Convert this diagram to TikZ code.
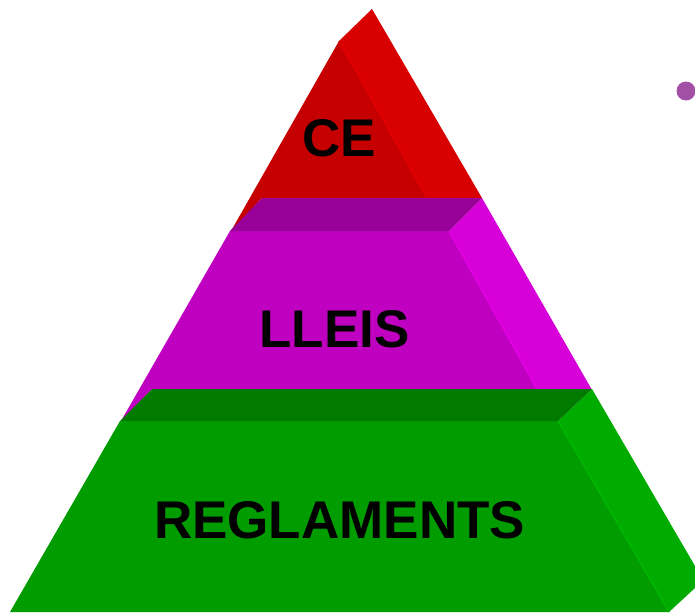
\documentclass[tikz,border=0pt]{standalone}
\usepackage{fontspec}
\setmainfont{Liberation Sans}
\definecolor{redfront}{HTML}{C60000}
\definecolor{redside}{HTML}{D80000}
\definecolor{rededge}{HTML}{E40000}
\definecolor{purpfront}{HTML}{C000C0}
\definecolor{purpside}{HTML}{D800D8}
\definecolor{purpedge}{HTML}{E400E4}
\definecolor{purptop}{HTML}{980098}
\definecolor{greenfront}{HTML}{009C00}
\definecolor{greenside}{HTML}{00AC00}
\definecolor{greenedge}{HTML}{00B800}
\definecolor{greentop}{HTML}{007B00}
\definecolor{dotcol}{HTML}{A24FA6}
\tikzset{
  face/.style={line width=0pt},
  ridge/.style={line width=1.4pt},
  label/.style={font=\fontsize{53}{53}\selectfont\bfseries, text=black, inner sep=0pt, anchor=center}
}
\begin{document}
\begin{tikzpicture}[x=1pt,y=-1pt]
\useasboundingbox (0,0) rectangle (695,613);
% red tier
\fill[redfront,face] (339,41) -- (427,198) -- (262,198) -- (231,231) -- cycle;
\fill[redside,face] (339,41) -- (372,9) -- (482,198) -- (427,198) -- cycle;
\draw[rededge,ridge] (339,41) -- (427,198);
% purple tier
\fill[purpfront,face] (230,231) -- (449,231) -- (537,389) -- (152,389) -- (121,421) -- cycle;
\fill[purpside,face] (449,231) -- (482,198) -- (592,390) -- (537,390) -- cycle;
\draw[purpedge,ridge] (449,231) -- (537,389);
\fill[purptop,face] (230,231) -- (262,198) -- (482,198) -- (449,231) -- cycle;
% green tier
\fill[greenfront,face] (120,421) -- (558,421) -- (669,612) -- (10,612) -- cycle;
\fill[greenside,face] (558,421) -- (592,389) -- (695,566) -- (695,588) -- (669,612) -- cycle;
\draw[greenedge,ridge] (558,421) -- (669,612);
\fill[greentop,face] (120,421) -- (152,389) -- (592,389) -- (558,421) -- cycle;
% bullet
\fill[dotcol] (686,91) circle (9.5);
% labels
\node[label] (ce) at (339,138) {CE};
\node[label] (lleis) at (334.5,329) {LLEIS};
\node[label] (regl) at (339.5,520) {REGLAMENTS};
\end{tikzpicture}
\end{document}
